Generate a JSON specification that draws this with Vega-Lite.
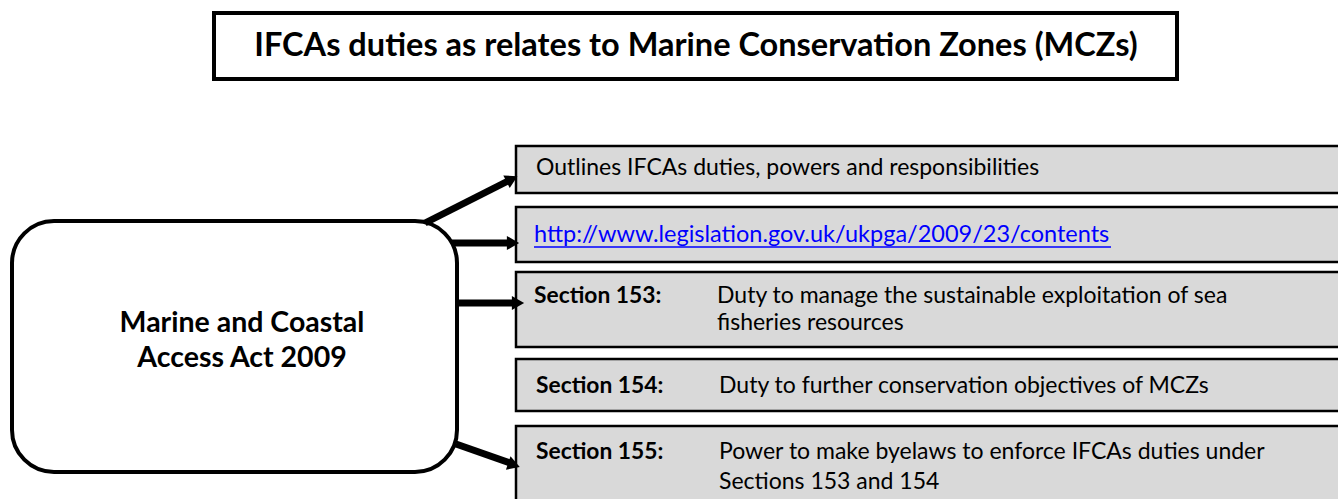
{
  "$schema": "https://vega.github.io/schema/vega-lite/v6.json",
  "width": 1338,
  "height": 499,
  "padding": 0,
  "autosize": {"type": "fit", "contains": "padding"},
  "background": "white",
  "config": {"view": {"stroke": null}},
  "datasets": {
    "boxes": [
      {"kind": "title", "x": 214, "x2": 1177, "y": 13, "y2": 79},
      {"kind": "act", "x": 12, "x2": 457, "y": 221, "y2": 472},
      {"kind": "item", "x": 516, "x2": 1360, "y": 146, "y2": 193},
      {"kind": "item", "x": 516, "x2": 1360, "y": 207, "y2": 262},
      {"kind": "item", "x": 516, "x2": 1360, "y": 272, "y2": 347},
      {"kind": "item", "x": 516, "x2": 1360, "y": 359, "y2": 411},
      {"kind": "item", "x": 516, "x2": 1360, "y": 426, "y2": 520}
    ],
    "shafts": [
      {"x": 425, "y": 223, "x2": 508, "y2": 181},
      {"x": 452, "y": 243, "x2": 508, "y2": 243},
      {"x": 457, "y": 303, "x2": 512, "y2": 303},
      {"x": 456, "y": 444, "x2": 510, "y2": 463}
    ],
    "heads": [
      {"x": 512, "y": 179, "dir": -27},
      {"x": 513, "y": 243, "dir": 0},
      {"x": 518, "y": 303, "dir": 0},
      {"x": 514, "y": 465, "dir": 19}
    ],
    "texts": [
      {"role": "title", "x": 696, "y": 46, "label": "IFCAs duties as relates to Marine Conservation Zones (MCZs)"},
      {"role": "act", "x": 242, "y": 323, "label": "Marine and Coastal"},
      {"role": "act", "x": 242, "y": 358, "label": "Access Act 2009"},
      {"role": "body", "x": 536, "y": 168, "label": "Outlines IFCAs duties, powers and responsibilities"},
      {"role": "url", "x": 534, "y": 235, "label": "http://www.legislation.gov.uk/ukpga/2009/23/contents"},
      {"role": "section", "x": 534, "y": 296, "label": "Section 153:"},
      {"role": "section", "x": 536, "y": 386, "label": "Section 154:"},
      {"role": "section", "x": 536, "y": 452, "label": "Section 155:"},
      {"role": "body", "x": 717, "y": 296, "label": "Duty to manage the sustainable exploitation of sea"},
      {"role": "body", "x": 717, "y": 323, "label": "fisheries resources"},
      {"role": "body", "x": 719, "y": 386, "label": "Duty to further conservation objectives of MCZs"},
      {"role": "body", "x": 719, "y": 452, "label": "Power to make byelaws to enforce IFCAs duties under"},
      {"role": "body", "x": 719, "y": 482, "label": "Sections 153 and 154"}
    ],
    "underline": [
      {"x": 534, "x2": 1111, "y": 247}
    ]
  },
  "layer": [
    {
      "data": {"name": "boxes"},
      "transform": [{"filter": "datum.kind == 'title'"}],
      "mark": {"type": "rect", "fill": "white", "stroke": "black", "strokeWidth": 4},
      "encoding": {
        "x": {"field": "x", "type": "quantitative", "scale": {"domain": [0, 1338], "nice": false, "zero": false}, "axis": null},
        "x2": {"field": "x2"},
        "y": {"field": "y", "type": "quantitative", "scale": {"domain": [0, 499], "reverse": true, "nice": false, "zero": false}, "axis": null},
        "y2": {"field": "y2"}
      }
    },
    {
      "data": {"name": "boxes"},
      "transform": [{"filter": "datum.kind == 'act'"}],
      "mark": {"type": "rect", "fill": "white", "stroke": "black", "strokeWidth": 4, "cornerRadius": 42},
      "encoding": {
        "x": {"field": "x", "type": "quantitative"},
        "x2": {"field": "x2"},
        "y": {"field": "y", "type": "quantitative"},
        "y2": {"field": "y2"}
      }
    },
    {
      "data": {"name": "boxes"},
      "transform": [{"filter": "datum.kind == 'item'"}],
      "mark": {"type": "rect", "fill": "#d9d9d9", "stroke": "black", "strokeWidth": 2.5, "clip": true},
      "encoding": {
        "x": {"field": "x", "type": "quantitative"},
        "x2": {"field": "x2"},
        "y": {"field": "y", "type": "quantitative"},
        "y2": {"field": "y2"}
      }
    },
    {
      "data": {"name": "shafts"},
      "mark": {"type": "rule", "color": "black", "strokeWidth": 7},
      "encoding": {
        "x": {"field": "x", "type": "quantitative"},
        "x2": {"field": "x2"},
        "y": {"field": "y", "type": "quantitative"},
        "y2": {"field": "y2"}
      }
    },
    {
      "data": {"name": "heads"},
      "mark": {"type": "point", "shape": "triangle-right", "filled": true, "color": "black", "opacity": 1, "size": 200},
      "encoding": {
        "x": {"field": "x", "type": "quantitative"},
        "y": {"field": "y", "type": "quantitative"},
        "angle": {"field": "dir", "type": "quantitative", "scale": null}
      }
    },
    {
      "data": {"name": "texts"},
      "transform": [{"filter": "datum.role == 'title'"}],
      "mark": {"type": "text", "font": "Lato", "fontWeight": "bold", "fontSize": 32.5, "align": "center", "baseline": "middle", "color": "black"},
      "encoding": {
        "x": {"field": "x", "type": "quantitative"},
        "y": {"field": "y", "type": "quantitative"},
        "text": {"field": "label"}
      }
    },
    {
      "data": {"name": "texts"},
      "transform": [{"filter": "datum.role == 'act'"}],
      "mark": {"type": "text", "font": "Lato", "fontWeight": "bold", "fontSize": 28.5, "align": "center", "baseline": "middle", "color": "black"},
      "encoding": {
        "x": {"field": "x", "type": "quantitative"},
        "y": {"field": "y", "type": "quantitative"},
        "text": {"field": "label"}
      }
    },
    {
      "data": {"name": "texts"},
      "transform": [{"filter": "datum.role == 'section'"}],
      "mark": {"type": "text", "font": "Lato", "fontWeight": "bold", "fontSize": 22.8, "align": "left", "baseline": "middle", "color": "black"},
      "encoding": {
        "x": {"field": "x", "type": "quantitative"},
        "y": {"field": "y", "type": "quantitative"},
        "text": {"field": "label"}
      }
    },
    {
      "data": {"name": "texts"},
      "transform": [{"filter": "datum.role == 'body'"}],
      "mark": {"type": "text", "font": "Lato", "fontSize": 23, "align": "left", "baseline": "middle", "color": "black"},
      "encoding": {
        "x": {"field": "x", "type": "quantitative"},
        "y": {"field": "y", "type": "quantitative"},
        "text": {"field": "label"}
      }
    },
    {
      "data": {"name": "texts"},
      "transform": [{"filter": "datum.role == 'url'"}],
      "mark": {"type": "text", "font": "Lato", "fontSize": 23.5, "align": "left", "baseline": "middle", "color": "#0000ff"},
      "encoding": {
        "x": {"field": "x", "type": "quantitative"},
        "y": {"field": "y", "type": "quantitative"},
        "text": {"field": "label"}
      }
    },
    {
      "data": {"name": "underline"},
      "mark": {"type": "rule", "color": "#0000ff", "strokeWidth": 1.5},
      "encoding": {
        "x": {"field": "x", "type": "quantitative"},
        "x2": {"field": "x2"},
        "y": {"field": "y", "type": "quantitative"}
      }
    }
  ]
}
